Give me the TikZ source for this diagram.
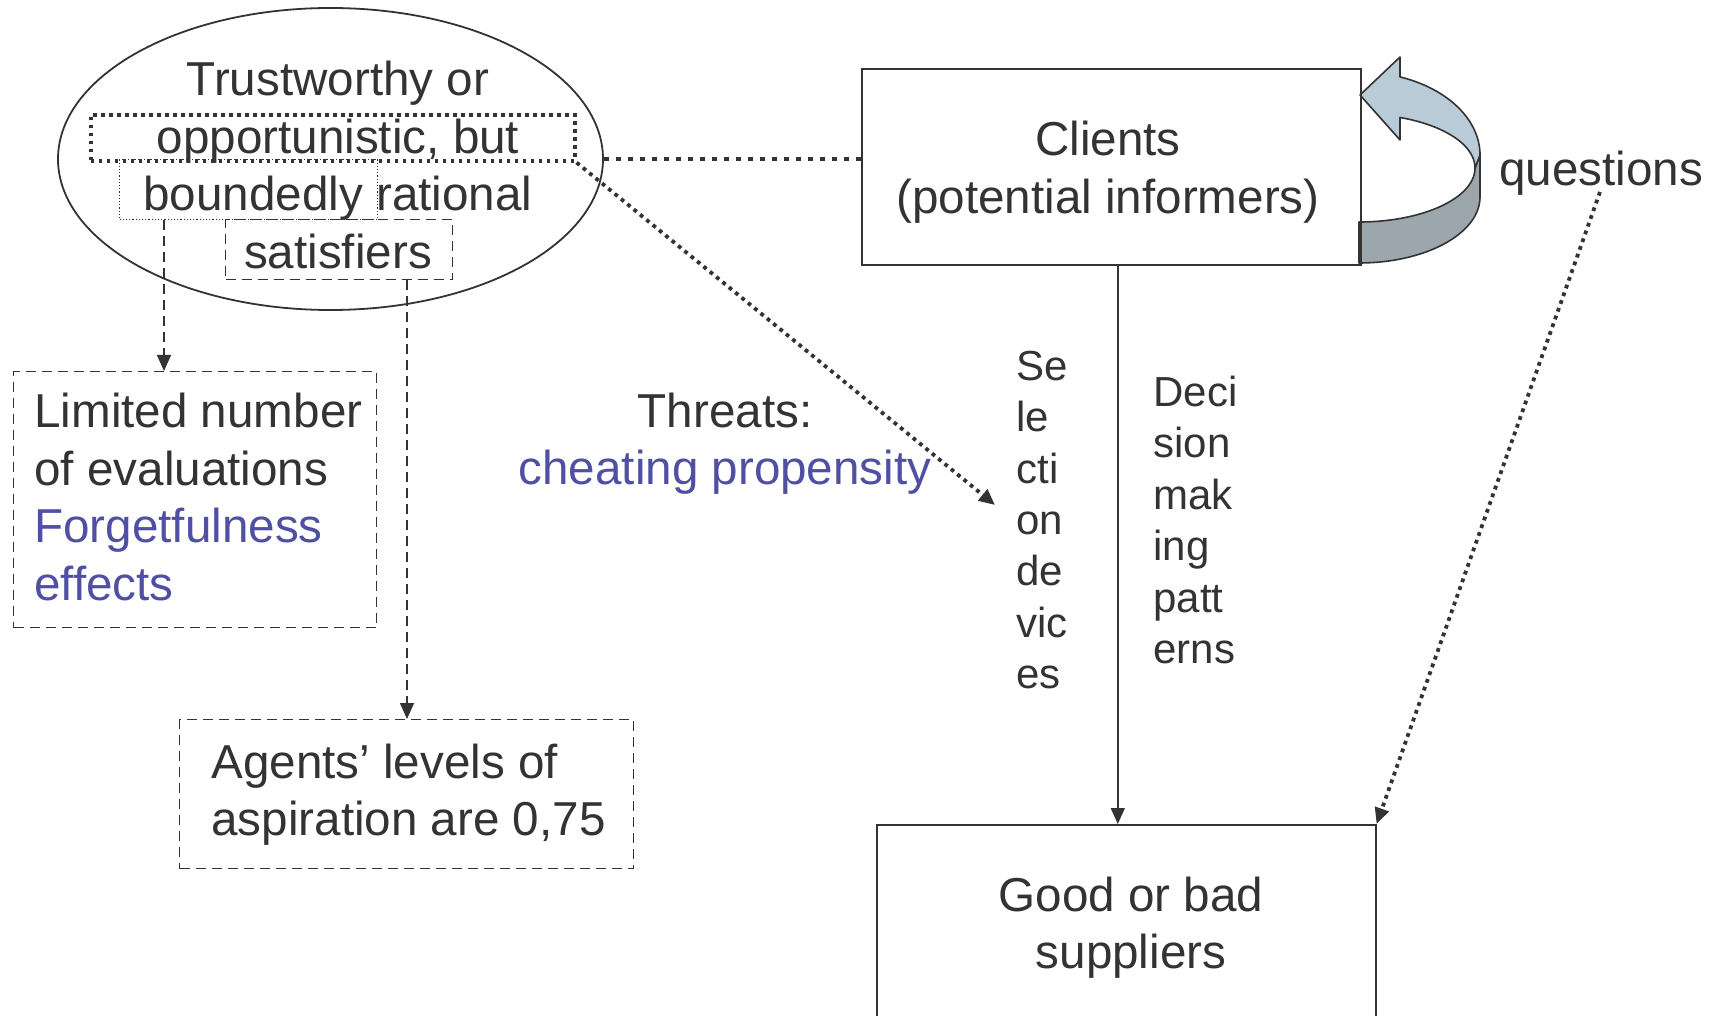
\documentclass[tikz,border=0pt]{standalone}
\usepackage{fontspec}
\setmainfont{Liberation Sans}
\usetikzlibrary{arrows.meta,calc,shapes.geometric}
\definecolor{ink}{HTML}{333333}
\definecolor{blu}{HTML}{4F4FA3}
\definecolor{alight}{HTML}{B9CBD6}
\definecolor{adark}{HTML}{9CA6AD}
\tikzset{
 big/.style={font=\fontsize{23.8}{28.8}\selectfont, text=ink, inner sep=0pt},
 small/.style={font=\fontsize{21}{25.7}\selectfont, text=ink, inner sep=0pt},
 solidbox/.style={draw=ink, line width=0.8pt, inner sep=0pt, anchor=north west},
 dashbox/.style={draw=ink, line width=0.7pt, dash pattern=on 5pt off 3pt, inner sep=0pt, anchor=north west},
 dotbox/.style={draw=ink, line width=1.8pt, dash pattern=on 1.8pt off 2.2pt, inner sep=0pt, anchor=north west},
 finebox/.style={draw=ink, line width=0.5pt, dash pattern=on 0.6pt off 1pt, inner sep=0pt, anchor=north west},
 arr/.style={-{Triangle[length=8pt,width=7pt]}},
 dashline/.style={draw=ink, line width=0.7pt, dash pattern=on 5pt off 3pt},
 thickdot/.style={draw=ink, line width=2.4pt, dash pattern=on 2.4pt off 3.6pt},
 fdot/.style={draw=ink, line width=1.9pt, dash pattern=on 1.9pt off 2.2pt},
 solidline/.style={draw=ink, line width=0.8pt},
 facestroke/.style={draw=ink, line width=0.8pt, line join=round}
}
\begin{document}
\begin{tikzpicture}[x=0.5pt,y=-0.5pt]
\useasboundingbox (0,0) rectangle (1715,1016);
\clip (0,0) rectangle (1715,1016);

% curved arrow (questions loop)
\path[fill=adark, facestroke] (1475,168) -- plot[domain=0:90, samples=40] ({1359+116*cos(\x)},{168+54*sin(\x)}) -- (1359,263) -- plot[domain=90:0, samples=40] ({1359+121*cos(\x)},{197+66*sin(\x)}) -- (1480,155) -- cycle;
\path[fill=alight, facestroke] (1360,95) -- (1400,57) -- (1400,77) -- plot[domain=-70.2:0, samples=40] ({1359+121*cos(\x)},{155+83*sin(\x)}) -- (1475,168) -- plot[domain=0:-69.3, samples=40] ({1359+116*cos(\x)},{168+54*sin(\x)}) -- (1400,140) -- cycle;

% ellipse
\node[ellipse, draw=ink, line width=0.9pt, minimum width=272.5pt, minimum height=151pt, inner sep=0pt] (ell) at (330.5,159) {};
\node[big, align=center] (ellt) at (338,165) {Trustworthy or\\opportunistic, but\\boundedly rational\\satisfiers};
\node[dotbox, minimum width=242pt, minimum height=23pt] (opp) at (89,113) {};
\node[finebox, minimum width=129pt, minimum height=30pt] (bd) at (119,159) {};
\node[dashbox, minimum width=113.5pt, minimum height=30pt] (sat) at (225,219) {};

% left boxes
\node[dashbox, minimum width=181.5pt, minimum height=128pt] (lim) at (13,371) {};
\node[big, align=left, anchor=west] (limt) at (34,497) {Limited number\\of evaluations\\\textcolor{blu}{Forgetfulness}\\\textcolor{blu}{effects}};
\node[dashbox, minimum width=227pt, minimum height=74.5pt] (ag) at (179,719) {};
\node[big, align=left, anchor=west] (agt) at (211,794.5) {Agents’ levels of\\aspiration are 0,75};

% right boxes
\node[solidbox, minimum width=249.5pt, minimum height=98pt] (cl) at (861,68) {};
\node[big, align=center] (clt) at (1108,172) {Clients\\(potential informers)};
\node[solidbox, minimum width=249.5pt, minimum height=101pt] (sup) at (876,824) {};
\node[big, align=center] (supt) at (1131,927.5) {Good or bad\\suppliers};
\node[big] (q) at (1601,173) {questions};

% labels
\node[big, align=center] (thr) at (725,443.5) {Threats:\\\textcolor{blu}{cheating propensity}};
\node[small, align=left, anchor=west] (sel) at (1016,520) {Se\\le\\cti\\on\\de\\vic\\es};
\node[small, align=left, anchor=west] (dec) at (1153,520) {Deci\\sion\\mak\\ing\\patt\\erns};

% connectors
\draw[thickdot] (ell.east) -- (ell.east -| cl.west);
\coordinate (seltip) at (995,505);
\draw[fdot, arr] (opp.south east) -- (seltip);
\coordinate (b1) at ($(bd.south west)+(45,0)$);
\draw[dashline, arr] (b1) -- (b1 |- lim.north);
\coordinate (s1) at ($(sat.south west)+(182,0)$);
\draw[dashline, arr] (s1) -- (s1 |- ag.north);
\coordinate (c1) at ($(cl.south)+(6.5,0)$);
\draw[solidline, arr] (c1) -- (c1 |- sup.north);
\coordinate (q1) at (1600,192);
\draw[fdot, arr] (q1) -- (sup.north east);
\end{tikzpicture}
\end{document}
